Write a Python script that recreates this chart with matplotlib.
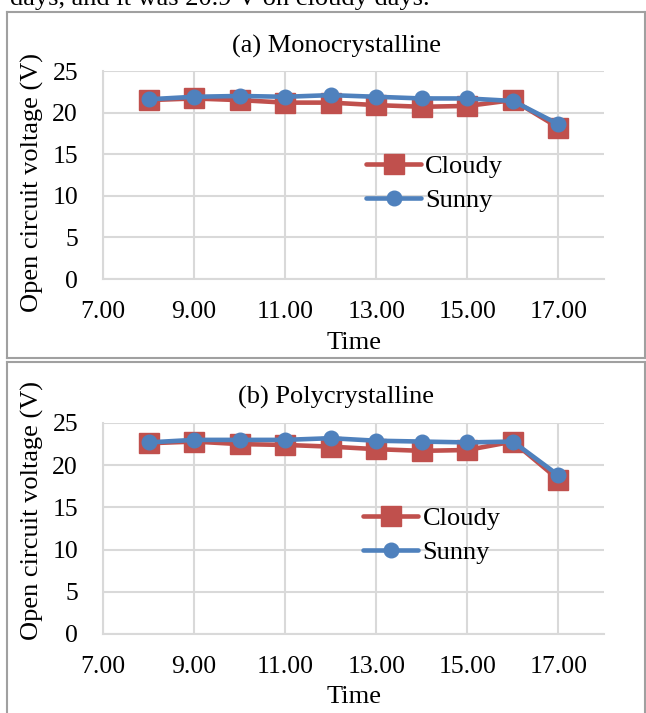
import numpy as np
import matplotlib
matplotlib.use("Agg")
import matplotlib.pyplot as plt
from matplotlib.lines import Line2D

plt.rcParams['font.family'] = ['Liberation Serif', 'DejaVu Serif']

# data
hours = [8, 9, 10, 11, 12, 13, 14, 15, 16, 17]
mono_cloudy = [21.5, 21.7, 21.5, 21.2, 21.2, 20.9, 20.7, 20.8, 21.5, 18.2]
mono_sunny = [21.6, 21.9, 22.0, 21.9, 22.1, 21.9, 21.7, 21.7, 21.4, 18.6]
poly_cloudy = [22.6, 22.8, 22.5, 22.4, 22.2, 21.9, 21.7, 21.8, 22.8, 18.3]
poly_sunny = [22.7, 23.0, 23.0, 23.0, 23.2, 22.9, 22.8, 22.7, 22.8, 18.8]
xticks = [7, 9, 11, 13, 15, 17]
yticks = [0, 5, 10, 15, 20, 25]

W, H = 646, 713
RED = '#C0504D'
BLUE = '#4F81BD'
GRID = '#D9D9D9'
FRAME = '#A0A0A0'
FS = 19


def fx(x):
    return x / W


def fy(y):
    return 1 - y / H


fig = plt.figure(figsize=(W / 100, H / 100), dpi=100)

# cut-off sentence at the top
fig.text(fx(10), fy(5), "days, and it was 20.9 V on cloudy days.", fontsize=FS,
         ha='left', va='baseline')

# panel frames (table cells)
for (y0, y1) in [(12, 358), (362, 740)]:
    for seg in [((7, 645), (y0, y0)), ((7, 7), (y0, y1)), ((645, 645), (y0, y1)),
                ((7, 645), (y1, y1))]:
        fig.add_artist(Line2D([fx(seg[0][0]), fx(seg[0][1])],
                              [fy(seg[1][0]), fy(seg[1][1])],
                              color=FRAME, lw=1.5, transform=fig.transFigure))


def panel(top, bottom, title, title_y, cloudy, sunny, leg_x, leg_y, ylab_y, time_y):
    ax = fig.add_axes([fx(103), fy(bottom), fx(604) - fx(103), fy(top) - fy(bottom)])
    ax.plot(hours, cloudy, color=RED, lw=3.3, marker='s', ms=14, label='Cloudy',
            solid_joinstyle='round', solid_capstyle='round')
    ax.plot(hours, sunny, color=BLUE, lw=3.3, marker='o', ms=10.5, label='Sunny',
            solid_joinstyle='round', solid_capstyle='round')
    ax.set_xlim(7, 18)
    ax.set_ylim(0, 25)
    ax.set_xticks(xticks)
    ax.set_xticklabels(['%.2f' % t for t in xticks])
    ax.set_yticks(yticks)
    ax.grid(True, color=GRID, lw=1.5)
    ax.set_axisbelow(True)
    for s in ['top', 'right']:
        ax.spines[s].set_visible(False)
    for s in ['left', 'bottom']:
        ax.spines[s].set_color(GRID)
        ax.spines[s].set_linewidth(1.5)
    ax.tick_params(length=0, labelsize=18.5)
    ax.tick_params(axis='x', pad=15.5)
    ax.tick_params(axis='y', pad=18)
    fig.text(fx(336), fy(title_y), title, fontsize=FS, ha='center', va='center')
    fig.text(fx(354), fy(time_y), 'Time', fontsize=FS, ha='center', va='center')
    fig.text(fx(32), fy(ylab_y), 'Open circuit voltage (V)', fontsize=FS,
             rotation=90, ha='center', va='center')
    ax.legend(loc='upper left', bbox_to_anchor=(fx(leg_x), fy(leg_y)),
              bbox_transform=fig.transFigure, frameon=False, fontsize=FS,
              handlelength=2.1, handletextpad=0.15, labelspacing=0.4,
              borderpad=0, borderaxespad=0)
    return ax


panel(71, 279, '(a) Monocrystalline', 46, mono_cloudy, mono_sunny, 366, 155, 182, 343)
panel(423, 634, '(b) Polycrystalline', 397, poly_cloudy, poly_sunny, 363, 507, 510, 697)

fig.savefig('out.png', dpi=100)
